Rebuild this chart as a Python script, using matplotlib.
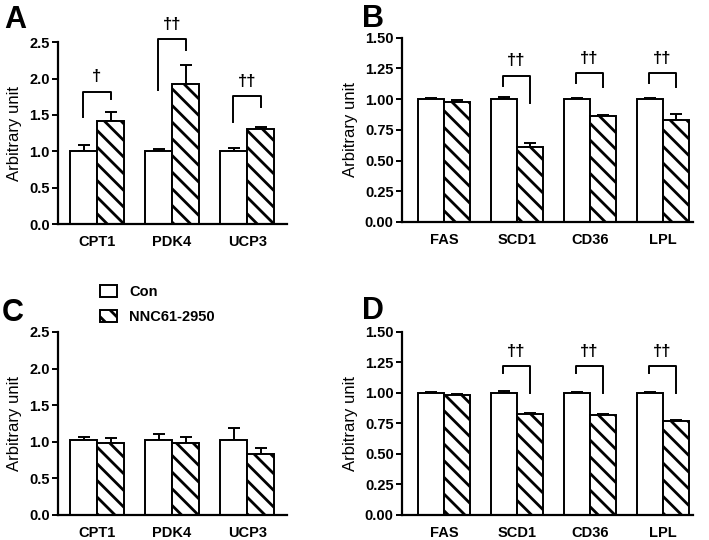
"""Expresión génica: Con vs NNC61-2950 (paneles A-D)."""

import matplotlib.pyplot as plt
import numpy as np
from matplotlib.patches import Patch

plt.rcParams["font.family"] = ["Liberation Sans", "DejaVu Sans"]
plt.rcParams["hatch.linewidth"] = 2.0
plt.rcParams["hatch.color"] = "black"

# ----------------------------------------------------------------------
# Datos
# ----------------------------------------------------------------------
genes_ox = ["CPT1", "PDK4", "UCP3"]
genes_lip = ["FAS", "SCD1", "CD36", "LPL"]

a_con = [1.00, 1.00, 1.00]
a_con_err = [0.08, 0.03, 0.05]
a_nnc = [1.42, 1.93, 1.30]
a_nnc_err = [0.12, 0.25, 0.03]

b_con = [1.00, 1.00, 1.00, 1.00]
b_con_err = [0.01, 0.02, 0.01, 0.01]
b_nnc = [0.98, 0.61, 0.86, 0.83]
b_nnc_err = [0.01, 0.03, 0.01, 0.05]

c_con = [1.03, 1.03, 1.03]
c_con_err = [0.04, 0.07, 0.16]
c_nnc = [0.99, 0.99, 0.83]
c_nnc_err = [0.06, 0.07, 0.08]

d_con = [1.00, 1.00, 1.00, 1.00]
d_con_err = [0.01, 0.02, 0.01, 0.01]
d_nnc = [0.98, 0.83, 0.82, 0.77]
d_nnc_err = [0.01, 0.005, 0.005, 0.005]

# significancia: (índice gen, etiqueta, y techo, y pata izq, y pata der)
a_sig = [(0, "†", 1.82, 1.47, 1.72), (1, "††", 2.54, 1.84, 2.39), (2, "††", 1.76, 1.40, 1.61)]
b_sig = [(1, "††", 1.19, 1.11, 0.97), (2, "††", 1.21, 1.13, 1.10), (3, "††", 1.21, 1.13, 1.10)]
c_sig = []
d_sig = [(1, "††", 1.22, 1.16, 1.00), (2, "††", 1.22, 1.16, 1.00), (3, "††", 1.22, 1.16, 1.00)]

W = 0.36


def draw_panel(ax, genes, con, con_err, nnc, nnc_err, sig, ymax, step, fmt, xlim):
    x = np.arange(len(genes))
    ax.bar(x - W / 2, con, W, color="white", edgecolor="black", linewidth=1.4, zorder=2)
    ax.bar(x + W / 2, nnc, W, color="white", edgecolor="black", linewidth=1.4,
           hatch="\\\\", zorder=2)
    for xs, ys, es in [(x - W / 2, con, con_err), (x + W / 2, nnc, nnc_err)]:
        ax.errorbar(xs, ys, yerr=[np.zeros(len(es)), es], fmt="none", ecolor="black",
                    elinewidth=1.4, capsize=4, capthick=1.4, zorder=1)

    for i, lab, top, yl, yr in sig:
        xl, xr = i - 0.19, i + 0.18
        ax.plot([xl, xl, xr, xr], [yl, top, top, yr], color="black", lw=1.4,
                clip_on=False)
        ax.text((xl + xr) / 2, top + ymax * 0.04, lab, ha="center", va="bottom",
                fontsize=12, fontweight="bold", clip_on=False)

    ax.set_ylim(0, ymax)
    ax.set_xlim(*xlim)
    ticks = np.arange(0, ymax + step / 2, step)
    ax.set_yticks(ticks)
    ax.set_yticklabels([fmt.format(t) for t in ticks], fontweight="bold", fontsize=10.5)
    ax.set_xticks(x)
    ax.set_xticklabels(genes, fontweight="bold", fontsize=10.5)
    ax.tick_params(axis="x", length=0, pad=8)
    ax.tick_params(axis="y", direction="out", length=4, width=1.4, pad=2)
    ax.set_ylabel("Arbitrary unit", fontsize=12, labelpad=5)
    for s in ["top", "right"]:
        ax.spines[s].set_visible(False)
    for s in ["left", "bottom"]:
        ax.spines[s].set_linewidth(1.6)


fig = plt.figure(figsize=(7.09, 5.4), dpi=100)
ax_a = fig.add_axes([0.0818, 0.585, 0.323, 0.337])
ax_b = fig.add_axes([0.567, 0.589, 0.410, 0.341])
ax_c = fig.add_axes([0.0818, 0.0463, 0.323, 0.339])
ax_d = fig.add_axes([0.567, 0.0463, 0.410, 0.339])

xlim_ox = (-0.52, 2.53)
xlim_lip = (-0.575, 3.41)

draw_panel(ax_a, genes_ox, a_con, a_con_err, a_nnc, a_nnc_err, a_sig, 2.5, 0.5, "{:.1f}", xlim_ox)
draw_panel(ax_b, genes_lip, b_con, b_con_err, b_nnc, b_nnc_err, b_sig, 1.5, 0.25, "{:.2f}", xlim_lip)
draw_panel(ax_c, genes_ox, c_con, c_con_err, c_nnc, c_nnc_err, c_sig, 2.5, 0.5, "{:.1f}", xlim_ox)
draw_panel(ax_d, genes_lip, d_con, d_con_err, d_nnc, d_nnc_err, d_sig, 1.5, 0.25, "{:.2f}", xlim_lip)

for lab, (px, py) in zip("ABCD", [(4, 5), (362, 4), (2, 298), (362, 296)]):
    fig.text(px / 709, 1 - py / 540, lab, fontsize=22, fontweight="bold", va="top", ha="left")

handles = [
    Patch(facecolor="white", edgecolor="black", linewidth=1.4),
    Patch(facecolor="white", edgecolor="black", linewidth=1.4, hatch="\\\\"),
]
fig.legend(handles, ["Con", "NNC61-2950"], loc="upper left",
           bbox_to_anchor=(100 / 709, 1 - 285 / 540), frameon=False,
           prop={"weight": "bold", "size": 10.5}, handlelength=1.15, handleheight=0.9,
           handletextpad=0.85, labelspacing=0.75, borderaxespad=0, borderpad=0)

fig.savefig("out.png", dpi=100)
